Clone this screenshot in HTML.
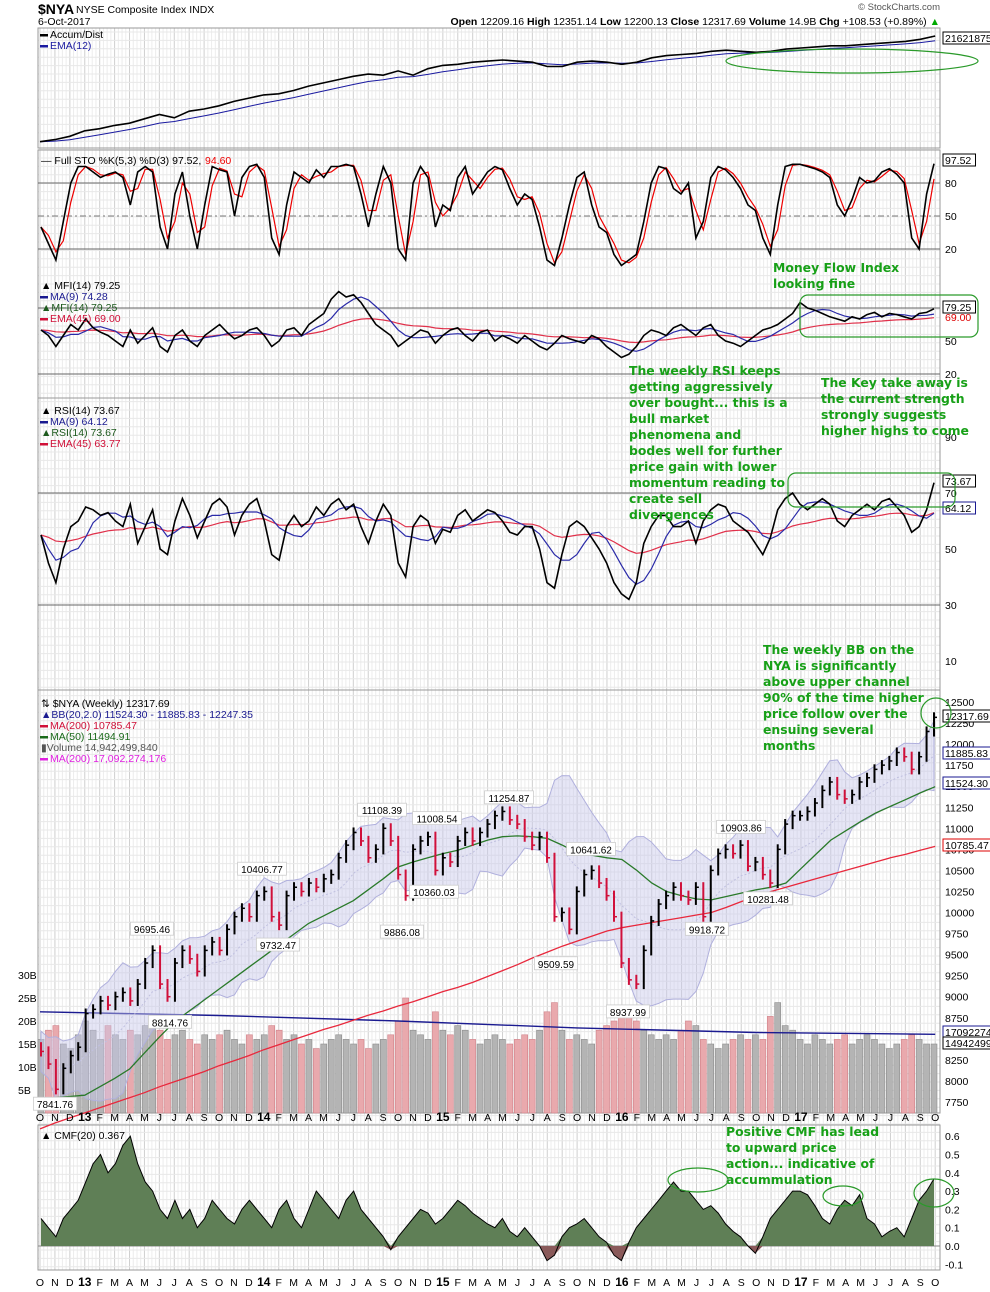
<!DOCTYPE html>
<html><head><meta charset="utf-8"><title>$NYA weekly chart</title>
<style>
html,body{margin:0;padding:0;background:#fff;}
svg{display:block;font-family:"Liberation Sans","DejaVu Sans",sans-serif;}
.ann{font-family:"DejaVu Sans","Liberation Sans",sans-serif;font-weight:bold;font-size:12.4px;fill:#17a017;}
</style></head>
<body>
<svg id="chart" width="990" height="1292" viewBox="0 0 990 1292" xmlns="http://www.w3.org/2000/svg">
<g id="grid"></g>
<g id="marks"></g>
<g id="labels"></g>
</svg>
<script>
// ---------- DATA (biweekly samples, Oct 2012 -> Oct 2017) ----------
const closes = [8350,8200,7900,8150,8300,8400,
8800,8850,8950,8900,9000,9050,8950,9150,9400,9550,9150,9000,9400,9550,9450,9300,9550,9650,9550,9800,9950,10050,9950,10200,
10250,9950,9850,10200,10300,10250,10350,10300,10400,10450,10650,10800,10950,10850,10650,10750,11000,10850,10450,10200,10750,10850,10900,10500,
10650,10600,10850,10950,10850,10950,11050,11150,11200,11100,11050,10900,10800,10900,10650,9950,10000,9800,10250,10450,10500,10350,10200,9950,
9400,9200,9150,9550,9900,10100,10200,10300,10200,10150,10300,9950,10500,10700,10750,10700,10800,10550,10600,10450,10350,10750,11050,11150,
11150,11200,11300,11450,11550,11400,11350,11400,11550,11600,11700,11750,11800,11900,11850,11700,11850,12150,12317.69];
const volumes = [16,18,19,15,14,17,
20,18,16,19,17,16,18,17,19,20,18,16,17,18,16,15,17,16,17,18,16,15,17,16,
17,19,18,16,17,15,16,14,15,16,17,16,15,16,14,15,16,17,20,25,18,17,16,22,
18,17,19,18,16,15,16,17,16,15,16,17,16,18,22,24,18,16,17,16,15,18,19,20,
23,22,20,18,17,16,17,16,18,20,19,16,15,14,15,16,17,16,17,16,21,24,19,18,
16,15,17,16,15,16,17,15,16,17,16,15,14,15,16,17,16,15,15];
const volMA = [22,21.2,20,18.5,17.5,17.1];
const ma50 = [7790,7800,7815,7830,7930,8030,8140,8330,8520,8700,8830,8960,9090,9220,9350,9480,9610,9740,9870,9960,10050,10140,10270,10400,10540,10600,10650,10700,10740,10800,10860,10900,10910,10900,10880,10800,10710,10680,10650,10630,10500,10350,10250,10200,10160,10150,10190,10230,10270,10300,10350,10520,10690,10860,10970,11080,11180,11260,11340,11420,11494];
const ma200 = [7430,7500,7560,7620,7680,7740,7800,7860,7930,7990,8050,8110,8180,8240,8300,8370,8430,8490,8550,8610,8660,8720,8780,8830,8890,8940,9000,9060,9110,9170,9240,9310,9380,9460,9530,9600,9660,9720,9780,9820,9850,9880,9910,9940,9970,10000,10060,10130,10190,10250,10300,10350,10400,10450,10500,10550,10600,10650,10690,10740,10785];
const accumDist = [3,5,8,13,15,18,20,24,28,25,31,33,36,40,43,46,47,50,54,57,60,63,65,64,68,64,70,73,74,76,77,78,77,76,72,72,76,77,76,74,76,80,82,83,84,86,87,86,85,86,88,89,90,91,91,92,93,94,95,97,100];
const stoK = [40,25,10,45,80,95,
95,90,85,88,90,85,60,90,95,90,40,20,70,90,50,20,60,95,92,90,50,85,95,97,
85,30,15,60,90,85,80,92,85,95,95,97,95,70,40,70,95,80,20,10,80,95,85,40,
60,55,85,95,70,80,90,95,92,75,60,70,65,40,10,5,30,60,85,90,60,40,35,15,
5,10,15,45,80,95,93,75,70,80,30,45,85,95,92,85,75,60,55,30,15,60,95,97,
97,95,93,90,85,60,50,65,85,80,82,90,93,88,80,30,20,70,97.52];
const mfi = [60,55,45,55,65,60,
70,62,58,55,50,45,60,48,55,62,45,40,55,60,50,45,55,60,65,58,52,55,60,62,
55,45,50,60,62,55,65,70,75,88,95,90,92,85,75,65,60,55,45,50,55,60,58,48,
55,60,62,55,50,58,60,50,55,52,48,55,50,45,42,48,55,52,50,48,55,52,45,40,
35,38,45,55,60,58,55,62,65,60,55,62,65,55,50,48,45,50,55,60,62,65,70,75,
85,80,78,75,72,70,68,72,70,74,76,72,75,74,72,70,75,76,79.25];
const rsi = [55,45,38,50,58,60,
65,64,62,63,60,58,66,52,58,64,50,48,60,68,62,54,60,66,68,65,55,62,66,68,
60,48,46,58,62,58,60,65,62,66,68,64,66,58,52,60,66,62,45,40,58,62,60,52,
57,56,62,64,60,62,64,63,60,56,55,58,58,50,38,36,48,58,60,58,54,50,45,38,
34,32,38,52,58,62,62,58,58,60,52,60,64,66,65,60,58,56,52,48,54,64,68,70,
66,64,66,68,66,60,58,62,64,66,64,67,68,65,62,56,58,64,73.67];
const cmf = [0.15,0.1,0.05,0.15,0.2,0.25,
0.35,0.45,0.5,0.4,0.45,0.55,0.6,0.45,0.35,0.3,0.2,0.15,0.25,0.15,0.2,0.1,0.15,0.25,0.2,0.15,0.12,0.2,0.25,0.2,
0.15,0.1,0.2,0.25,0.15,0.1,0.2,0.3,0.25,0.2,0.15,0.25,0.3,0.2,0.15,0.1,0.05,-0.02,0.05,0.1,0.15,0.2,0.18,0.12,
0.15,0.2,0.25,0.22,0.18,0.15,0.12,0.1,0.15,0.08,0.05,0.1,0.05,0.0,-0.08,-0.05,0.05,0.1,0.12,0.15,0.1,0.05,0.02,-0.05,
-0.08,0.02,0.1,0.15,0.2,0.25,0.3,0.35,0.3,0.3,0.25,0.2,0.22,0.18,0.12,0.08,0.05,0.0,-0.04,0.05,0.15,0.2,0.25,0.3,
0.3,0.28,0.22,0.15,0.12,0.2,0.25,0.22,0.28,0.15,0.12,0.05,0.08,0.1,0.05,0.15,0.25,0.3,0.367];
const monthLabels = ["O","N","D","13","F","M","A","M","J","J","A","S","O","N","D","14","F","M","A","M","J","J","A","S","O","N","D","15","F","M","A","M","J","J","A","S","O","N","D","16","F","M","A","M","J","J","A","S","O","N","D","17","F","M","A","M","J","J","A","S","O"];
const priceTicks = [12500,12250,12000,11750,11500,11250,11000,10750,10500,10250,10000,9750,9500,9250,9000,8750,8500,8250,8000,7750];
const volTicks = [30,25,20,15,10,5];
const cmfTicks = [0.6,0.5,0.4,0.3,0.2,0.1,0.0,-0.1];
const peakLabels = [["7841.76",55,7842],["8814.76",170,8815],["9695.46",152,9695],["9732.47",278,9732],["10406.77",262,10407],["11108.39",382,11108],["11008.54",437,11008],["10360.03",434,10360],["9886.08",402,9886],["11254.87",509,11255],["10641.62",591,10642],["9509.59",556,9510],["8937.99",628,8938],["9918.72",707,9919],["10903.86",741,10904],["10281.48",768,10281]];

// ---------- helpers ----------
const NS="http://www.w3.org/2000/svg";
const L=38, R=940;
const N=closes.length;
const xi = i => 41 + i*(893/(N-1));
const xm = m => 40 + m*14.92;
const py = p => 702 + (12500-p)*(21.05/250);
const vy = v => 1090 - (v-5)*4.6;
const stoY = v => 249 - (v-20)*1.1;
const mfiY = v => 374 - (v-20)*1.1;
const rsiY = v => 605 - (v-30)*2.8;
const cmfY = v => 1246 - v*183;
const adY = v => 145 - v*1.09;
function el(parent,tag,attrs,text){const e=document.createElementNS(NS,tag);for(const k in attrs)e.setAttribute(k,attrs[k]);if(text!==undefined)e.textContent=text;document.getElementById(parent).appendChild(e);return e;}
function poly(vals,xf,yf){return vals.map((v,i)=>(i?"L":"M")+xf(i).toFixed(1)+","+yf(v).toFixed(1)).join("");}
function sma(a,n){return a.map((v,i)=>{const s=a.slice(Math.max(0,i-n+1),i+1);return s.reduce((p,c)=>p+c,0)/s.length;});}
function ema(a,n){const k=2/(n+1);let e=a[0];return a.map(v=>e=e+k*(v-e));}

// ---------- grid ----------
const panels=[[28,148],[150,398],[398,690],[690,1113],[1125,1270]];
for(let m=0;m<60;m++){for(let q=1;q<4;q++){const x=xm(m)+q*14.92/4;const g=el("grid","line",{x1:x,x2:x,y1:28,y2:1270,stroke:"#ececec","stroke-width":1});
}}
for(let m=0;m<=60;m++){const g=el("grid","line",{x1:xm(m),x2:xm(m),y1:28,y2:1270,stroke:"#cfcfcf","stroke-width":1});
}
for(let y=32;y<1270;y+=8.4){const g=el("grid","line",{x1:L,x2:R,y1:y,y2:y,stroke:"#e8e8e8","stroke-width":1});
}
panels.forEach(p=>{const r=el("grid","rect",{x:L,y:p[0],width:R-L,height:p[1]-p[0],fill:"none",stroke:"#999","stroke-width":1});
});
[[stoY(80),"#666",""],[stoY(50),"#777","6,3,2,3"],[stoY(20),"#666",""],[mfiY(80),"#666",""],[mfiY(20),"#666",""],[rsiY(70),"#666",""],[rsiY(30),"#666",""],[cmfY(0),"#888",""]].forEach(a=>{
const l=el("grid","line",{x1:L,x2:R,y1:a[0],y2:a[0],stroke:a[1],"stroke-width":1,"stroke-dasharray":a[2]});
});

// ---------- Accum/Dist ----------
let p=el("marks","path",{d:poly(ema(accumDist,6),xm,adY),fill:"none",stroke:"#1a1aa0","stroke-width":1});

p=el("marks","path",{d:poly(accumDist,xm,adY),fill:"none",stroke:"#000","stroke-width":1.6});


// ---------- STO ----------
p=el("marks","path",{d:poly(sma(stoK,2),xi,stoY),fill:"none",stroke:"#e00","stroke-width":1.2});

p=el("marks","path",{d:poly(stoK,xi,stoY),fill:"none",stroke:"#000","stroke-width":1.6});


// ---------- MFI ----------
p=el("marks","path",{d:poly(ema(mfi,23),xi,mfiY),fill:"none",stroke:"#e0304a","stroke-width":1.2});

p=el("marks","path",{d:poly(sma(mfi,5),xi,mfiY),fill:"none",stroke:"#2a2aa8","stroke-width":1.2});

p=el("marks","path",{d:poly(mfi,xi,mfiY),fill:"none",stroke:"#000","stroke-width":1.6});


// ---------- RSI ----------
p=el("marks","path",{d:poly(ema(rsi,23),xi,rsiY),fill:"none",stroke:"#e0304a","stroke-width":1.2});

p=el("marks","path",{d:poly(sma(rsi,5),xi,rsiY),fill:"none",stroke:"#2a2aa8","stroke-width":1.2});

p=el("marks","path",{d:poly(rsi,xi,rsiY),fill:"none",stroke:"#000","stroke-width":1.6});


// ---------- Price panel ----------
volumes.forEach((v,i)=>{const up=i===0||closes[i]>=closes[i-1];
const b=el("marks","rect",{x:xi(i)-3,y:vy(v),width:6,height:1113-vy(v),fill:up?"#b4b4b4":"#e9a9ad",stroke:up?"#8a8a8a":"#d08088","stroke-width":0.6});
});
p=el("marks","path",{d:poly(volMA,i=>xm(i*12),vy),fill:"none",stroke:"#1a1a90","stroke-width":1.4});

const mid=sma(closes,10);
const sd=closes.map((v,i)=>{const s=closes.slice(Math.max(0,i-9),i+1);const m=mid[i];return Math.sqrt(s.reduce((a,c)=>a+(c-m)*(c-m),0)/s.length);});
const up=mid.map((m,i)=>m+2*Math.max(sd[i],120)),lo=mid.map((m,i)=>m-2*Math.max(sd[i],120));
let d=poly(up,xi,py)+lo.slice().reverse().map((v,j)=>"L"+xi(N-1-j).toFixed(1)+","+py(v).toFixed(1)).join("")+"Z";
p=el("marks","path",{d:d,fill:"rgba(200,200,235,0.45)",stroke:"#b0b0dd","stroke-width":1});

p=el("marks","path",{d:poly(mid,xi,py),fill:"none",stroke:"#c0c0e0","stroke-width":1,"stroke-dasharray":"2,2"});

p=el("marks","path",{d:poly(ma200,xm,py),fill:"none",stroke:"#e8283c","stroke-width":1.3});

p=el("marks","path",{d:poly(ma50,xm,py),fill:"none",stroke:"#2a7a2a","stroke-width":1.3});

closes.forEach((c,i)=>{const o=i?closes[i-1]:c+50;const upb=c>=o;const hi=Math.max(o,c)+60,low=Math.min(o,c)-60;const col=upb?"#000":"#d0103a";
const g=el("marks","line",{x1:xi(i),x2:xi(i),y1:py(hi),y2:py(low),stroke:col,"stroke-width":2});

const t=el("marks","line",{x1:xi(i),x2:xi(i)+3,y1:py(c),y2:py(c),stroke:col,"stroke-width":1.5});
});
peakLabels.forEach(a=>{const y=py(a[2]);const w=a[0].length*5.6+4;const above=a[2]>10900||["9695.46","10406.77","11254.87","10641.62","10903.86"].includes(a[0]);const ty=above?y-9:y+10;
const r=el("labels","rect",{x:a[1]-w/2,y:ty-7,width:w,height:13,fill:"#fff",stroke:"#ccc","stroke-width":0.8});

const t=el("labels","text",{x:a[1],y:ty+4,"font-size":"10","text-anchor":"middle",fill:"#000"},a[0]);
});

// ---------- CMF ----------
const base=cmfY(0);
d="M"+xi(0)+","+base+cmf.map((v,i)=>"L"+xi(i).toFixed(1)+","+cmfY(Math.max(v,0)).toFixed(1)).join("")+"L"+xi(N-1)+","+base+"Z";
p=el("marks","path",{d:d,fill:"#5f7f56",stroke:"none"});

d="M"+xi(0)+","+base+cmf.map((v,i)=>"L"+xi(i).toFixed(1)+","+cmfY(Math.min(v,0)).toFixed(1)).join("")+"L"+xi(N-1)+","+base+"Z";
p=el("marks","path",{d:d,fill:"#8a5a5a",stroke:"none"});

p=el("marks","path",{d:poly(cmf,xi,cmfY),fill:"none",stroke:"#000","stroke-width":1});


// ---------- axis labels ----------
function lab(x,y,txt,name,opt){const t=el("labels","text",Object.assign({x:x,y:y,"font-size":"10.5",fill:"#000"},opt||{}),txt);
return t;}
priceTicks.forEach(v=>lab(945,py(v)+4,String(v),'price-tick'));
volTicks.forEach(v=>lab(18,vy(v)+4,v+"B",'volume-tick'));
cmfTicks.forEach(v=>lab(945,cmfY(v)+4,v.toFixed(1),'cmf-tick'));
[80,50,20].forEach(v=>lab(945,stoY(v)+4,String(v),'sto-tick'));
[50,20].forEach(v=>lab(945,mfiY(v)+4,String(v),'mfi-tick'));
[90,70,50,30,10].forEach(v=>lab(945,rsiY(v)+4,String(v),'rsi-tick'));
monthLabels.forEach((m,i)=>{const yr=m.length>1;const o={"text-anchor":"middle","font-weight":yr?"bold":"normal","font-size":yr?"12":"10.5"};
lab(xm(i),1286,m,'x-axis-month',o);lab(xm(i),1121,m,'price-x-axis-month',o);});
function box(x,y,txt,col,name){const w=txt.length*5.7+4;const r=el("labels","rect",{x:x,y:y-9,width:w,height:12,fill:"#fff",stroke:col,"stroke-width":1});
lab(x+2,y+1,txt,name,{fill:"#000"});}
box(943,41,"21621875","#000","ad-value");
box(943,163,"97.52","#000","sto-value");
box(943,310,"79.25","#000","mfi-value");lab(945,321,"69.00",'mfi-ema-value',{fill:"#d00"});
box(943,484,"73.67","#000","rsi-value");box(943,511,"64.12","#1a1a90","rsi-ma-value");
box(943,719,"12317.69","#000","last-price");box(943,756,"11885.83","#1a1a90","bb-mid-value");
box(943,786,"11524.30","#1a1a90","bb-low-value");box(943,848,"10785.47","#d00","ma200-value");
box(943,1035,"17092274","#1a1a90","vol-ma-value");box(943,1046,"14942499","#000","volume-value");

function leg(x,y,txt,col,name){const r=el("labels","rect",{x:x,y:y-4,width:8,height:2.5,fill:col});
lab(x+10,y,txt,name,{fill:col});}
leg(40,38,"Accum/Dist","#000","legend-ad");leg(40,49,"EMA(12)","#1a1aa0","legend-ad-ema");
lab(41,164,"— Full STO %K(5,3) %D(3) 97.52,",'legend-sto');lab(205,164,"94.60",'legend-sto-d',{fill:"#e00"});
lab(41,289,"▲ MFI(14) 79.25",'legend-mfi');leg(40,300,"MA(9) 74.28","#1a1a90","legend-mfi-ma");
lab(41,311,"▲MFI(14) 79.25",'legend-mfi2',{fill:"#1d5a1d"});leg(40,322,"EMA(45) 69.00","#d01038","legend-mfi-ema");
lab(41,414,"▲ RSI(14) 73.67",'legend-rsi');leg(40,425,"MA(9) 64.12","#1a1a90","legend-rsi-ma");
lab(41,436,"▲RSI(14) 73.67",'legend-rsi2',{fill:"#1d5a1d"});leg(40,447,"EMA(45) 63.77","#d01038","legend-rsi-ema");
lab(41,707,"⇅ $NYA (Weekly) 12317.69",'legend-price');lab(41,718,"▲BB(20,2.0) 11524.30 - 11885.83 - 12247.35",'legend-bb',{fill:"#1a1a90"});
leg(40,729,"MA(200) 10785.47","#d01038","legend-ma200");leg(40,740,"MA(50) 11494.91","#1a6a1a","legend-ma50");
lab(41,751,"▮Volume 14,942,499,840",'legend-volume',{fill:"#555"});leg(40,762,"MA(200) 17,092,274,176","#e020e0","legend-vol-ma");
lab(41,1139,"▲ CMF(20) 0.367",'legend-cmf');

// header
lab(38,14,"$NYA",'ticker',{"font-size":"14","font-weight":"bold"});
lab(76,13,"NYSE Composite Index  INDX",'index-name');
lab(38,25,"6-Oct-2017",'chart-date');
lab(940,10,"© StockCharts.com",'copyright',{"text-anchor":"end","font-size":"9.5",fill:"#555"});
const hdr=lab(940,25,"",'ohlc-summary',{"text-anchor":"end"});
hdr.innerHTML='<tspan font-weight="bold">Open</tspan> 12209.16 <tspan font-weight="bold">High</tspan> 12351.14 <tspan font-weight="bold">Low</tspan> 12200.13 <tspan font-weight="bold">Close</tspan> 12317.69 <tspan font-weight="bold">Volume</tspan> 14.9B <tspan font-weight="bold">Chg</tspan> +108.53 (+0.89%) <tspan fill="#0a0">▲</tspan>';

// annotations
function note(x,y,lines,name){lines.forEach((s,k)=>{const t=el("labels","text",{x:x,y:y+k*16,class:"ann"},s);
});}
note(773,272,["Money Flow Index","looking fine"],'mfi-annotation');
note(629,375,["The weekly RSI keeps","getting aggressively","over bought... this is a","bull market","phenomena and","bodes well for further","price gain with lower","momentum reading to","create sell","divergences"],'rsi-annotation');
note(821,387,["The Key take away is","the current strength","strongly suggests","higher highs to come"],'key-takeaway-annotation');
note(763,654,["The weekly BB on the","NYA is significantly","above upper channel","90% of the time higher","price follow over the","ensuing several","months"],'bb-annotation');
note(726,1136,["Positive CMF has lead","to upward price","action... indicative of","accummulation"],'cmf-annotation');
function shape(tag,attrs,name){const e=el("labels",tag,Object.assign({fill:"none",stroke:"#2a9a2a","stroke-width":1.2},attrs));
}
shape("ellipse",{cx:852,cy:61,rx:126,ry:12},'ad-highlight-ellipse');
shape("rect",{x:800,y:295,width:178,height:42,rx:8},'mfi-highlight-box');
shape("rect",{x:788,y:473,width:167,height:34,rx:8},'rsi-highlight-box');
shape("circle",{cx:936,cy:713,r:15},'price-highlight-circle');
shape("ellipse",{cx:698,cy:1180,rx:30,ry:12},'cmf-highlight-1');
shape("ellipse",{cx:843,cy:1196,rx:20,ry:10},'cmf-highlight-2');
shape("ellipse",{cx:934,cy:1193,rx:20,ry:14},'cmf-highlight-3');
</script>
</body></html>
